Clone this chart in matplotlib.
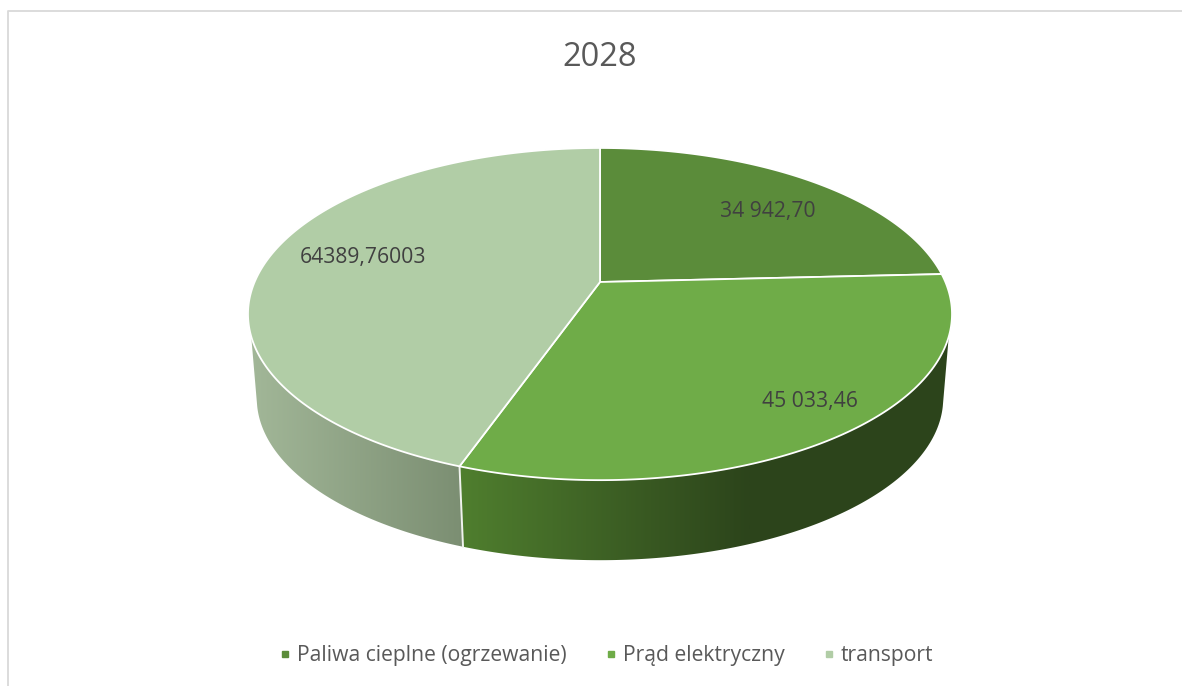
import numpy as np
import matplotlib
matplotlib.use('Agg')
import matplotlib.pyplot as plt
from matplotlib.colors import LinearSegmentedColormap
from matplotlib.lines import Line2D
from matplotlib.patches import Polygon, Rectangle

plt.rcParams['font.family'] = ['Open Sans', 'DejaVu Sans']

title = '2028'
categories = ['Paliwa cieplne (ogrzewanie)', 'Prąd elektryczny', 'transport']
values = [34942.70, 45033.46, 64389.76003]
value_labels = ['34 942,70', '45 033,46', '64389,76003']
colors = ['#5B8C3A', '#6FAC48', '#B1CDA6']

# pie geometry in pixels, tilted circle seen in perspective
cx, cy = 600, 282
a, b, k = 345.4, 159.9, 0.193
depth_y, depth_scale = 85, 0.975
wall_from, wall_to = 108.7, 251.3
floor_from, floor_to = 104, 256


def top_point(deg, r=1.0):
    t = np.radians(deg)
    u, v = r * np.sin(t), r * np.cos(t)
    d = 1 + k * v
    return cx + a * u / d, cy - b * v / d


def bottom_point(deg):
    x, y = top_point(deg)
    return cx + (x - cx) * depth_scale, cy + depth_y + (y - cy) * depth_scale


def arc(func, start, end):
    n = max(int(abs(end - start)), 2) * 2
    return np.array([func(d) for d in np.linspace(start, end, n)])


def wall(ax, top_range, floor_range, x0, x1, c0, c1):
    pts = np.vstack([arc(top_point, *top_range), arc(bottom_point, *floor_range[::-1])])
    patch = Polygon(pts, closed=True, facecolor='none', edgecolor='none')
    ax.add_patch(patch)
    cmap = LinearSegmentedColormap.from_list('w', [c0, c1])
    grad = np.linspace(0, 1, 256).reshape(1, -1)
    im = ax.imshow(grad, cmap=cmap, extent=(x0, x1, 600, 100), aspect='auto', zorder=2)
    im.set_clip_path(patch)
    # flat colour beyond the gradient ends
    for xa, xb, c in [(0, x0, c0), (x1, 1182, c1)]:
        r = Rectangle((xa, 100), xb - xa, 500, facecolor=c, edgecolor='none', zorder=2)
        ax.add_patch(r)
        r.set_clip_path(patch)


fig = plt.figure(figsize=(11.82, 6.86), dpi=100)
ax = fig.add_axes([0, 0, 1, 1])

edges = np.concatenate([[0], np.cumsum(values)]) / np.sum(values) * 360

wall(ax, (wall_from, edges[2]), (floor_from, edges[2]), 462, 750, '#4F7E2E', '#2C441B')
wall(ax, (edges[2], wall_to), (edges[2], floor_to), 250, 465, '#A2B798', '#7B8E72')

# white seam between the two visible walls
seam = np.array([top_point(edges[2]), bottom_point(edges[2])])
ax.plot(seam[:, 0], seam[:, 1], color='#F0F2EE', lw=1.4, zorder=3)

for i in range(3):
    pts = np.vstack([[cx, cy], arc(top_point, edges[i], edges[i + 1])])
    ax.add_patch(Polygon(pts, closed=True, facecolor=colors[i], edgecolor='white',
                         lw=1.3, joinstyle='round', zorder=4))

label_pos = [(768, 211), (810, 401), (363, 257)]
for s, (x, y) in zip(value_labels, label_pos):
    ax.text(x, y, s, ha='center', va='center', fontsize=15.2, color='#404040', zorder=5)

ax.text(600, 57, title, ha='center', va='center', fontsize=23.5, color='#595959')

handles = [Line2D([], [], marker='s', ls='none', ms=4.6, color=c) for c in colors]
ax.legend(handles, categories, loc='center', bbox_to_anchor=(606.5 / 1182, 1 - 656 / 686),
          ncol=3, frameon=False, fontsize=15.2, labelcolor='#595959', handlelength=0.5,
          handletextpad=0.32, columnspacing=1.83, borderpad=0)

# chart area frame, only the top and left edges are in the crop
ax.plot([7.5, 7.5, 1182], [686, 10.5, 10.5], color='#D9D9D9', lw=1.3, zorder=1)

ax.set_xlim(0, 1182)
ax.set_ylim(686, 0)
ax.axis('off')
fig.savefig('out.png', dpi=100, facecolor='white')
